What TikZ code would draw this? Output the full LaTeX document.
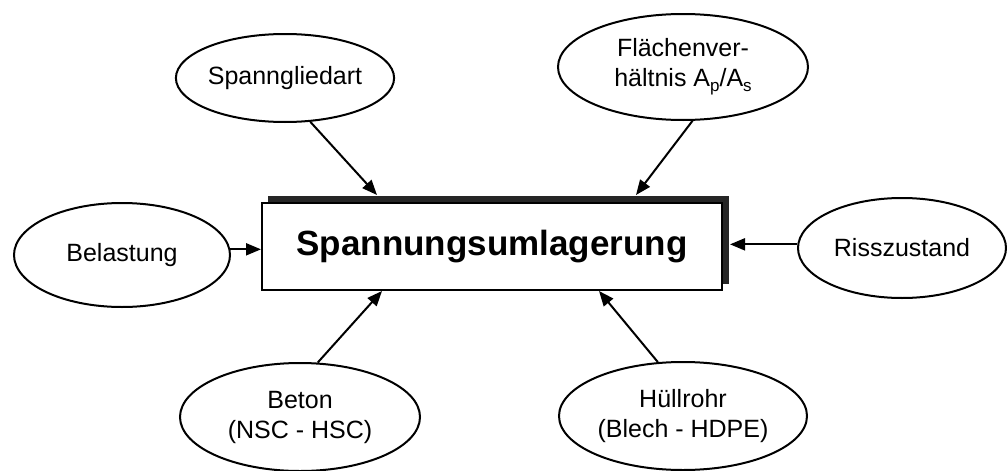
\documentclass[tikz,border=0pt]{standalone}
\usepackage{fontspec}
\setmainfont{Liberation Sans}
\usetikzlibrary{shapes.geometric,arrows.meta}
\newcommand{\lowsub}[1]{\raisebox{-5pt}{\fontsize{17}{17}\selectfont #1}}
\begin{document}
\begin{tikzpicture}[x=1pt,y=-1pt,
  oval/.style={ellipse,draw,line width=2pt,inner sep=0pt,align=center,
    font=\fontsize{25}{30}\selectfont},
  conn/.style={line width=2pt,-{Triangle[length=15pt,width=12pt]}},
  mainbox/.style={draw,line width=2pt,fill=white,minimum width=460pt,
    minimum height=87pt,inner sep=0pt,font=\fontsize{35}{40}\selectfont\bfseries}
]
\useasboundingbox (0,0) rectangle (1007,471);
% shadow
\fill[black!85] (268,196) rectangle (729,284);
\node[mainbox] (box) at (492,246.5) {Spannungsumlagerung};

\node[oval,minimum width=196pt,minimum height=88pt] (sp) at (285,78) {Spanngliedart};
\node[oval,minimum width=250pt,minimum height=106pt] (fl) at (683,67)
  {Flächenver-\\hältnis A\lowsub{p}/A\lowsub{s}};
\node[oval,minimum width=216pt,minimum height=104pt] (bel) at (122,255) {Belastung};
\node[oval,minimum width=208pt,minimum height=100pt] (ris) at (902,248) {Risszustand};
\node[oval,minimum width=240pt,minimum height=108pt] (bet) at (300,417) {Beton\\(NSC - HSC)};
\node[oval,minimum width=248pt,minimum height=108pt] (hul) at (683,416) {Hüllrohr\\(Blech - HDPE)};

\draw[conn] (sp.-60) -- ([xshift=116pt,yshift=7pt]box.north west);
\draw[conn] (fl.-80) -- ([xshift=375pt,yshift=7pt]box.north west);
\draw[conn] (bel.3) -- (bel.3 -| box.west);
\draw[conn] (ris.178) -- ([xshift=7pt]ris.178 -| box.east);
\draw[conn] (bet.72) -- ([xshift=121pt]box.south west);
\draw[conn] (hul.115) -- ([xshift=338pt]box.south west);
\end{tikzpicture}
\end{document}
